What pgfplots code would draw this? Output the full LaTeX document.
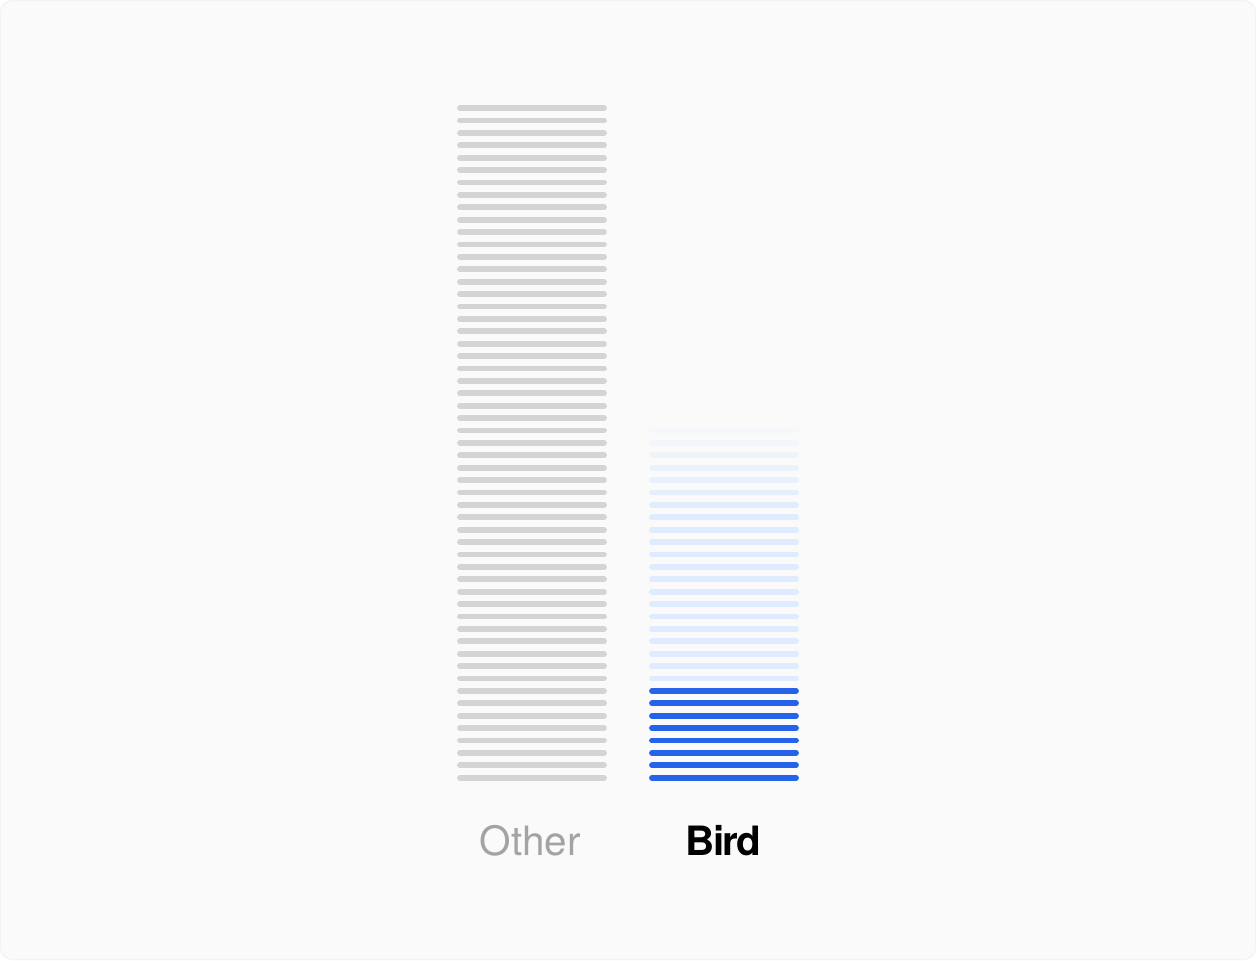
\documentclass[border=0pt]{standalone}
\usepackage{pgfplots}
\pgfplotsset{compat=1.18}
\usepackage{fontspec}
\setmainfont{TeX Gyre Heros}

\definecolor{bg}{HTML}{FAFAFA}
\definecolor{frame}{HTML}{F2F2F2}
\definecolor{othergray}{HTML}{D4D4D4}
\definecolor{labelgray}{HTML}{A3A3A3}
\definecolor{birdblue}{HTML}{2563EB}
\definecolor{birdlight}{HTML}{DFEBFE}

% one row per stacked stroke: column x = category (0 Other, 1 Bird), y = stroke index
\pgfplotstableread{
x y
0 1
0 2
0 3
0 4
0 5
0 6
0 7
0 8
0 9
0 10
0 11
0 12
0 13
0 14
0 15
0 16
0 17
0 18
0 19
0 20
0 21
0 22
0 23
0 24
0 25
0 26
0 27
0 28
0 29
0 30
0 31
0 32
0 33
0 34
0 35
0 36
0 37
0 38
0 39
0 40
0 41
0 42
0 43
0 44
0 45
0 46
0 47
0 48
0 49
0 50
0 51
0 52
0 53
0 54
0 55
}\othertable

\pgfplotstableread{
x y
1 1
1 2
1 3
1 4
1 5
1 6
1 7
1 8
}\birdtable

\pgfplotstableread{
x y
1 9
1 10
1 11
1 12
1 13
1 14
1 15
1 16
1 17
1 18
1 19
1 20
1 21
1 22
}\birdfaded

\begin{document}
\begin{tikzpicture}
\begin{axis}[
    width=12.56cm, height=9.6cm,
    scale only axis,
    hide axis,
    xmin=-2.771, xmax=3.771,
    ymin=-13.70, ymax=63.72,
    clip=false,
    stroke/.style={only marks, mark=-, mark size=7.2mm,
        mark options={solid, line width=0.58mm, line cap=round, #1}},
]
\fill[bg, draw=frame, line width=0.1mm, rounded corners=1.2mm]
    ([xshift=0.05mm,yshift=0.05mm]rel axis cs:0,0) rectangle
    ([xshift=-0.05mm,yshift=-0.05mm]rel axis cs:1,1);

\addplot[stroke={draw=othergray}] table[x=x,y=y] {\othertable};
\addplot[stroke={draw=birdblue}] table[x=x,y=y] {\birdtable};
\addplot[stroke={draw=birdlight}] table[x=x,y=y] {\birdfaded};
% fading top strokes of the Bird column
\addplot[stroke={draw=birdlight, opacity=0.92}] coordinates {(1,23)};
\addplot[stroke={draw=birdlight, opacity=0.80}] coordinates {(1,24)};
\addplot[stroke={draw=birdlight, opacity=0.66}] coordinates {(1,25)};
\addplot[stroke={draw=birdlight, opacity=0.52}] coordinates {(1,26)};
\addplot[stroke={draw=birdlight, opacity=0.40}] coordinates {(1,27)};
\addplot[stroke={draw=birdlight, opacity=0.28}] coordinates {(1,28)};
\addplot[stroke={draw=birdlight, opacity=0.17}] coordinates {(1,29)};

\node[anchor=base, text=labelgray, font=\fontsize{11.5pt}{13pt}\selectfont]
    at (axis cs:-0.01,-5.26) {Other};
\node[anchor=base, text=black, font=\fontsize{11.5pt}{13pt}\selectfont\bfseries]
    at (axis cs:0.997,-5.26) {\addfontfeatures{LetterSpace=-4}Bird};
\end{axis}
\pgfresetboundingbox
\path[use as bounding box] (current axis.south west) rectangle (current axis.north east);
\end{tikzpicture}
\end{document}
